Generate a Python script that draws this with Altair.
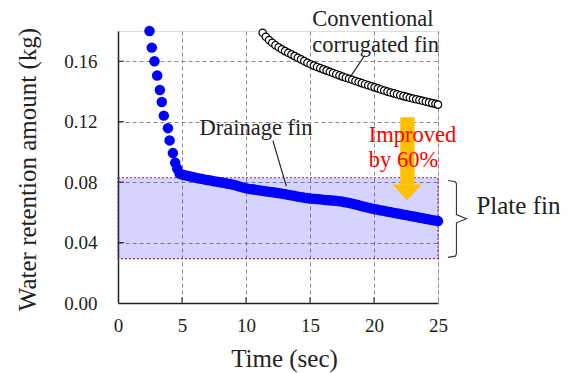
import altair as alt
import pandas as pd

# ---------------- data ----------------
# Drainage fin: steep initial part (sec, kg)
drain_steep_t = [2.46, 2.64, 2.85, 3.06, 3.27, 3.42, 3.58, 3.90, 4.03, 4.29, 4.47, 4.63, 4.81, 5.00]
drain_steep_v = [0.180, 0.169, 0.160, 0.1505, 0.141, 0.133, 0.124, 0.1157, 0.1076, 0.0992, 0.0928, 0.0888, 0.0856, 0.0850]

# Drainage fin: slow part, every 0.25 s from 5.25 s to 25 s
drain_flat_v = [
    0.0846, 0.0840, 0.0835, 0.0830, 0.0826, 0.0822, 0.0818, 0.0814, 0.0810, 0.0806,
    0.0803, 0.0799, 0.0795, 0.0791, 0.0787, 0.0782, 0.0777, 0.0771, 0.0765, 0.0759,
    0.0755, 0.0752, 0.0749, 0.0746, 0.0743, 0.0740, 0.0737, 0.0734, 0.0731, 0.0728,
    0.0725, 0.0721, 0.0717, 0.0713, 0.0709, 0.0705, 0.0701, 0.0698, 0.0695, 0.0692,
    0.0690, 0.0688, 0.0686, 0.0684, 0.0682, 0.0680, 0.0678, 0.0676, 0.0674, 0.0671,
    0.0667, 0.0663, 0.0658, 0.0653, 0.0648, 0.0642, 0.0637, 0.0632, 0.0627, 0.0622,
    0.0618, 0.0614, 0.0610, 0.0606, 0.0602, 0.0598, 0.0594, 0.0590, 0.0586, 0.0582,
    0.0578, 0.0574, 0.0570, 0.0566, 0.0562, 0.0558, 0.0554, 0.0550, 0.0546, 0.0542,
]
drain_flat_t = [round(5.25 + 0.25 * i, 2) for i in range(len(drain_flat_v))]

# Conventional corrugated fin, every 0.25 s from 11.3 s, last at 25 s
conv_v = [
    0.1788, 0.1762, 0.1740, 0.1722, 0.1706, 0.1692, 0.1679, 0.1667, 0.1656, 0.1645,
    0.1634, 0.1623, 0.1612, 0.1601, 0.1590, 0.1580, 0.1571, 0.1562, 0.1554, 0.1546,
    0.1538, 0.1530, 0.1522, 0.1514, 0.1506, 0.1498, 0.1491, 0.1484, 0.1477, 0.1469,
    0.1462, 0.1455, 0.1448, 0.1441, 0.1434, 0.1427, 0.1420, 0.1413, 0.1406, 0.1399,
    0.1393, 0.1387, 0.1381, 0.1375, 0.1369, 0.1364, 0.1358, 0.1353, 0.1348, 0.1343,
    0.1338, 0.1333, 0.1328, 0.1323, 0.1318, 0.1313,
]
conv_t = [round(11.3 + 0.25 * i, 2) for i in range(len(conv_v) - 1)] + [25.0]

# Plate fin band (kg)
band_lo, band_hi = 0.0294, 0.0829

x_ticks = [0, 5, 10, 15, 20, 25]
y_ticks = [0.00, 0.04, 0.08, 0.12, 0.16]

# ---------------- chart ----------------
FONT = "Liberation Serif"
TXT = "#222222"

xs = alt.Scale(domain=[0, 25], nice=False, zero=False)
ys = alt.Scale(domain=[0, 0.18], nice=False)

x_axis = alt.Axis(values=x_ticks, title="Time (sec)", grid=True, gridDash=[4, 3],
                  gridColor="#8c8c8c", gridWidth=1, ticks=False, labelFontSize=19,
                  labelFont=FONT, labelColor=TXT, labelPadding=13, labelFlush=False,
                  domainColor="#222222", domainWidth=1.5, titleFont=FONT, titleFontSize=25,
                  titleFontWeight="normal", titleColor=TXT, titleX=166, titleY=63,
                  titleBaseline="alphabetic", titleAlign="center")
y_axis = alt.Axis(values=y_ticks, format=".2f", title="Water retention amount (kg)", grid=True,
                  gridDash=[4, 3], gridColor="#8c8c8c", gridWidth=1, ticks=False,
                  labelFontSize=19, labelFont=FONT, labelColor=TXT, labelPadding=21,
                  labelFlush=False, domainColor="#222222", domainWidth=1.5, titleFont=FONT,
                  titleFontSize=25, titleFontWeight="normal", titleColor=TXT, titleX=-83,
                  titleY=138, titleAngle=270, titleBaseline="alphabetic", titleAlign="center")


def X(f):
    return alt.X(f, type="quantitative", scale=xs, axis=x_axis)


def Y(f):
    return alt.Y(f, type="quantitative", scale=ys, axis=y_axis)


band_df = pd.DataFrame({"x0": [0], "x1": [25], "y0": [band_lo], "y1": [band_hi]})
band = alt.Chart(band_df).mark_rect(fill="#0000ff", fillOpacity=0.17, stroke="#8b2f4f",
                                    strokeDash=[2, 2], strokeWidth=1.2).encode(
    x=X("x0"), x2="x1", y=Y("y0"), y2="y1")

xt = alt.Chart(pd.DataFrame({"v": x_ticks[1:-1]})).mark_rule(color="#222222", strokeWidth=1).encode(
    x=X("v"), y=alt.value(272), y2=alt.value(266))
yt = alt.Chart(pd.DataFrame({"v": y_ticks[1:]})).mark_rule(color="#222222", strokeWidth=1).encode(
    y=Y("v"), x=alt.value(0), x2=alt.value(6))

conv_df = pd.DataFrame({"t": conv_t, "v": conv_v})
conv = alt.Chart(conv_df).mark_point(shape="circle", filled=True, fill="white", stroke="black",
                                     strokeWidth=1.2, size=55, opacity=1).encode(
    x=X("t"), y=Y("v"))

drain_df = pd.DataFrame({"t": drain_steep_t + drain_flat_t, "v": drain_steep_v + drain_flat_v})
drain = alt.Chart(drain_df).mark_point(shape="circle", filled=True, color="#0000ff",
                                       size=110, opacity=1).encode(x=X("t"), y=Y("v"))

# leader lines (annotation geometry)
lead_df = pd.DataFrame({"g": ["d", "d", "c", "c"],
                        "x": [12.1, 13.15, 19.27, 18.23],
                        "y": [0.1075, 0.0773, 0.1638, 0.1506]})
leads = alt.Chart(lead_df).mark_line(color="#222222", strokeWidth=1.2).encode(
    x=X("x"), y=Y("y"), detail="g:N")

br_df = pd.DataFrame({"o": list(range(9)),
                      "x": [25.78, 26.35, 26.44, 26.44, 27.22, 26.44, 26.44, 26.35, 25.78],
                      "y": [0.0811, 0.0803, 0.0790, 0.0585, 0.0558, 0.0531, 0.0325, 0.0310, 0.0302]})
bracket = alt.Chart(br_df).mark_line(color="#333333", strokeWidth=1.1).encode(
    x=X("x"), y=Y("y"), order="o:Q")

shaft_df = pd.DataFrame({"x0": [22.05], "x1": [23.17], "y0": [0.0785], "y1": [0.1230]})
shaft = alt.Chart(shaft_df).mark_rect(color="#FFC000").encode(
    x=X("x0"), x2="x1", y=Y("y0"), y2="y1")
head_df = pd.DataFrame({"x": [22.58], "y": [0.0732]})
head = alt.Chart(head_df).mark_point(shape="M -1 -0.55 L 1 -0.55 L 0 0.55 Z", filled=True,
                                     color="#FFC000", size=841, opacity=1).encode(
    x=X("x"), y=Y("y"))

def label(txt, x, y, size, color=TXT, lh=None):
    kw = dict(align="left", baseline="alphabetic", font=FONT, fontSize=size, color=color)
    if lh is not None:
        kw.update(lineBreak="\n", lineHeight=lh)
    return alt.Chart(pd.DataFrame({"x": [x], "y": [y], "s": [txt]})).mark_text(**kw).encode(
        x=X("x"), y=Y("y"), text="s:N")

t_conv = label("Conventional\ncorrugated fin", 15.17, 0.1836, 22.5, lh=26.7)
t_drain = label("Drainage fin", 6.37, 0.1109, 22.5)
t_impr = label("Improved\nby 60%", 19.59, 0.1064, 22.5, color="#FF0000", lh=25)
t_plate = label("Plate fin", 28.0, 0.0591, 25)

chart = alt.layer(band, xt, yt, conv, drain, leads, bracket, shaft, head,
                  t_conv, t_drain, t_impr, t_plate).properties(
    width=320, height=272,
    padding={"left": 110, "top": 23, "right": 128, "bottom": 74},
    autosize=alt.AutoSizeParams(type="none"),
).configure_view(stroke="#222222", strokeWidth=1.2).configure(background="white")

chart.save("out.html", embed_options={"renderer": "svg", "actions": False})
